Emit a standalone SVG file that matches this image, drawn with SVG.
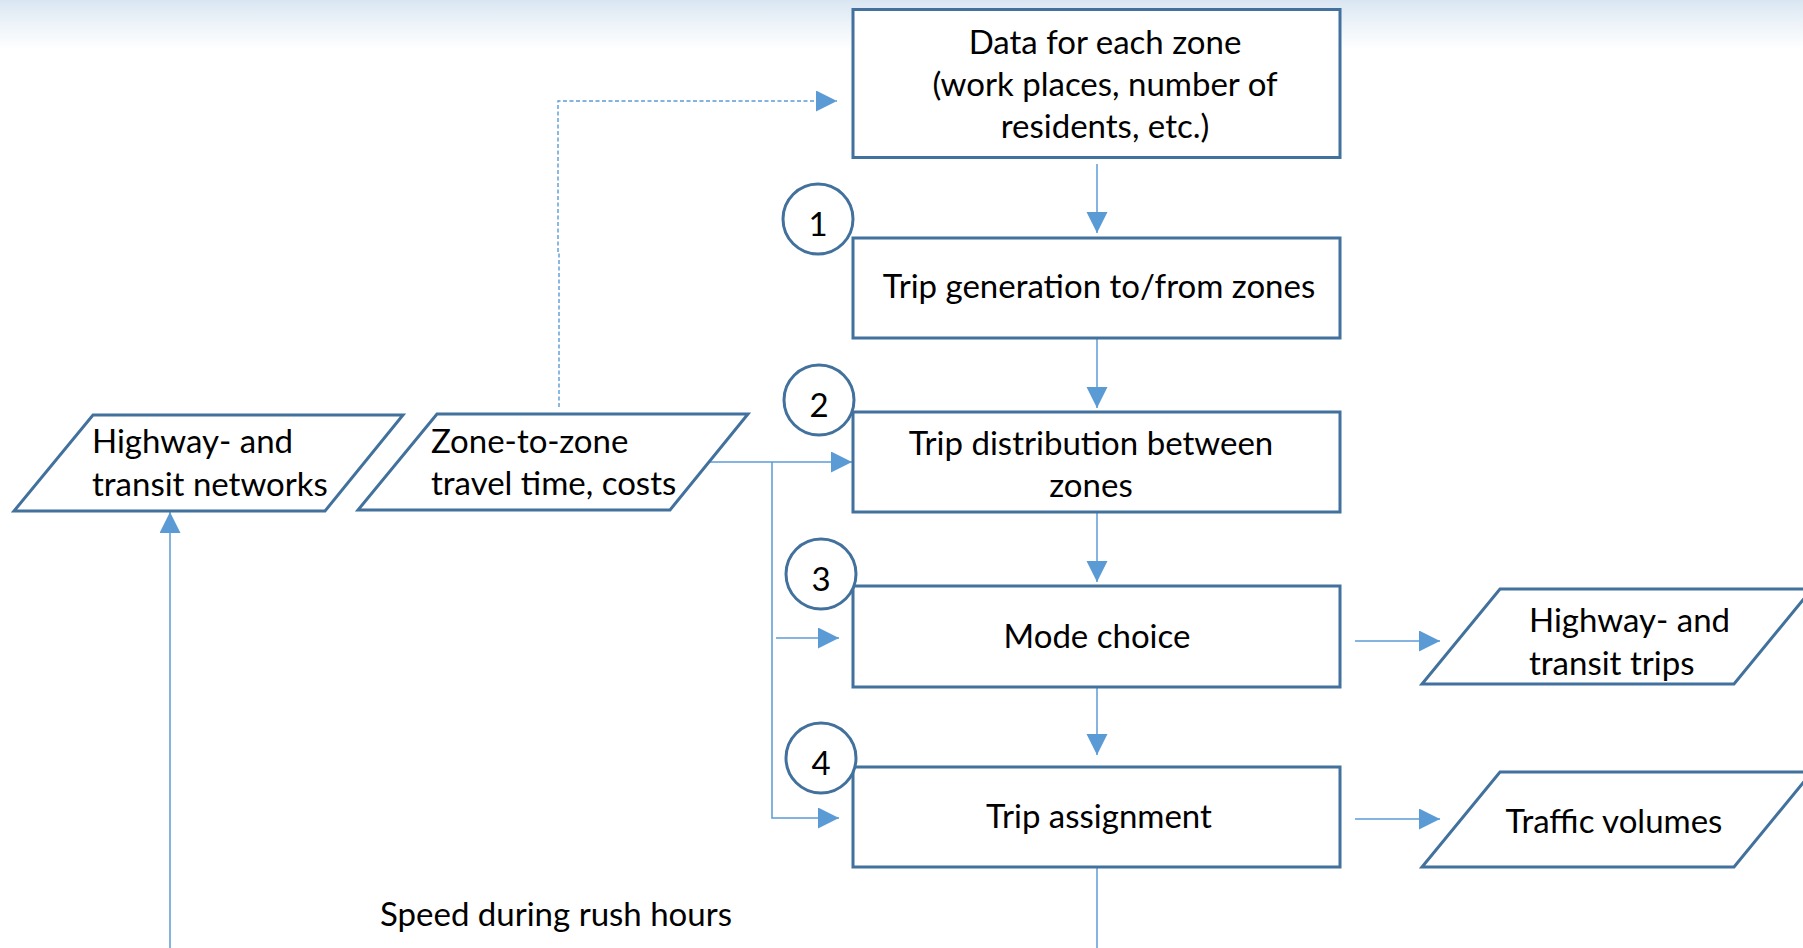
<svg xmlns="http://www.w3.org/2000/svg" width="1803" height="948" viewBox="0 0 1803 948">
<defs>
<linearGradient id="sky" x1="0" y1="0" x2="0" y2="1">
<stop offset="0" stop-color="#d9e6f2"/>
<stop offset="0.5" stop-color="#eef4f9"/>
<stop offset="1" stop-color="#ffffff"/>
</linearGradient>
<marker id="ah" markerUnits="userSpaceOnUse" markerWidth="22" markerHeight="22" refX="21" refY="10.5" orient="auto">
<path d="M0,0 L21,10.5 L0,21 z" fill="#5B9BD5"/>
</marker>
</defs>
<style>
.box{fill:#ffffff;stroke:#41719C;stroke-width:3}
.circ{fill:#ffffff;stroke:#41719C;stroke-width:3}
.con{fill:none;stroke:#5B9BD5;stroke-width:1.5}
.dash{fill:none;stroke:#5B9BD5;stroke-width:1.4;stroke-dasharray:4 2.5}
text{font-family:Lato,"Open Sans",sans-serif;font-size:33px;fill:#000000}
.c{text-anchor:middle}
</style>
<rect x="0" y="0" width="1803" height="948" fill="#ffffff"/>
<rect x="0" y="0" width="1803" height="50" fill="url(#sky)"/>

<g id="connectors">
<path class="dash" d="M559,407 L559,253 L558,253 L558,101 L837,101" marker-end="url(#ah)"/>
<path class="con" d="M1097,164 L1097,233" marker-end="url(#ah)"/>
<path class="con" d="M1097,338 L1097,408" marker-end="url(#ah)"/>
<path class="con" d="M1097,512 L1097,582" marker-end="url(#ah)"/>
<path class="con" d="M1097,687 L1097,755" marker-end="url(#ah)"/>
<path class="con" d="M1097,867 L1097,948"/>
<path class="con" d="M708,462 L852,462" marker-end="url(#ah)"/>
<path class="con" d="M772,462 L772,818 L839,818" marker-end="url(#ah)"/>
<path class="con" d="M776,638 L839,638" marker-end="url(#ah)"/>
<path class="con" d="M1355,641 L1440,641" marker-end="url(#ah)"/>
<path class="con" d="M1355,819 L1440,819" marker-end="url(#ah)"/>
<path class="con" d="M170,948 L170,512" marker-end="url(#ah)"/>
</g>

<g id="data">
<rect class="box" x="853" y="9.5" width="487" height="148"/>
<text class="c" x="1105" y="54">Data for each zone</text>
<text class="c" x="1105" y="96">(work places, number of</text>
<text class="c" x="1105" y="138">residents, etc.)</text>
</g>

<g id="step1">
<rect class="box" x="853" y="238" width="487" height="100"/>
<text class="c" x="1099" y="298">Trip generation to/from zones</text>
</g>

<g id="step2">
<rect class="box" x="853" y="412" width="487" height="100"/>
<text class="c" x="1091" y="455">Trip distribution between</text>
<text class="c" x="1091" y="497">zones</text>
</g>

<g id="step3">
<rect class="box" x="853" y="586" width="487" height="101"/>
<text class="c" x="1097" y="648">Mode choice</text>
</g>

<g id="step4">
<rect class="box" x="853" y="767" width="487" height="100"/>
<text class="c" x="1099" y="828">Trip assignment</text>
</g>

<g id="num1">
<circle class="circ" cx="818" cy="219" r="35"/>
<text class="c" x="818" y="236">1</text>
</g>
<g id="num2">
<circle class="circ" cx="819" cy="400" r="35"/>
<text class="c" x="819" y="417">2</text>
</g>
<g id="num3">
<circle class="circ" cx="821" cy="574" r="35"/>
<text class="c" x="821" y="591">3</text>
</g>
<g id="num4">
<circle class="circ" cx="821" cy="758" r="35"/>
<text class="c" x="821" y="775">4</text>
</g>

<g id="networks">
<polygon class="box" points="93,415 403,415 325,511 14,511"/>
<text x="92" y="453">Highway- and</text>
<text x="92" y="496">transit networks</text>
</g>

<g id="traveltime">
<polygon class="box" points="437,414 748,414 670,510 358,510"/>
<text x="431" y="453">Zone-to-zone</text>
<text x="431" y="495">travel time, costs</text>
</g>

<g id="trips">
<polygon class="box" points="1500,589 1812,589 1734,684 1422,684"/>
<text x="1529" y="632">Highway- and</text>
<text x="1529" y="675">transit trips</text>
</g>

<g id="volumes">
<polygon class="box" points="1500,772 1812,772 1734,867 1422,867"/>
<text class="c" x="1614" y="833">Traffic volumes</text>
</g>

<g id="speed">
<text x="380" y="926">Speed during rush hours</text>
</g>
</svg>
